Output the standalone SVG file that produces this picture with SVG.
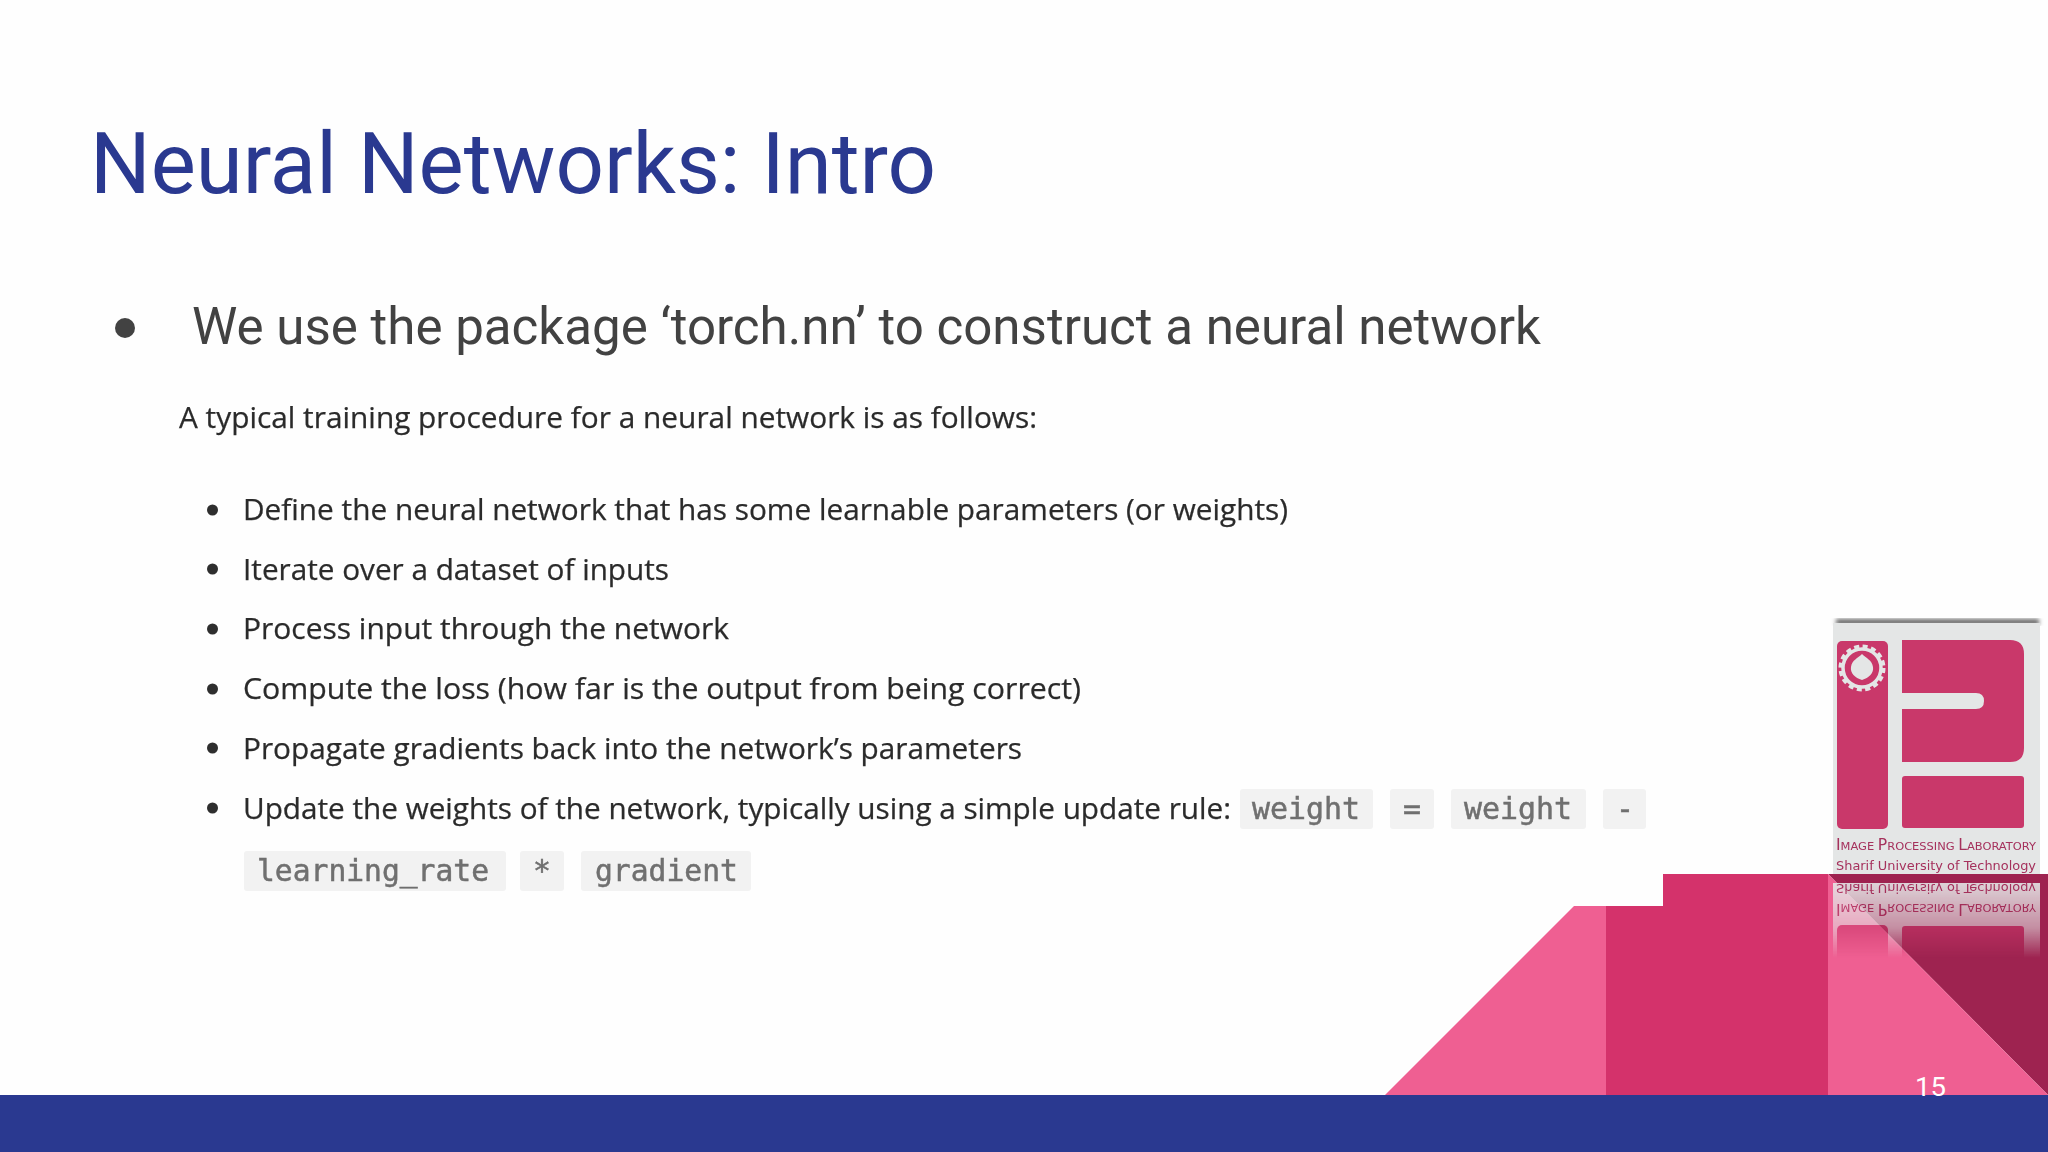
<svg xmlns="http://www.w3.org/2000/svg" width="2048" height="1152" viewBox="0 0 2048 1152">
<style>
.body{font-family:"Open Sans","Noto Sans",sans-serif;font-size:30px;fill:#2b2b2b;stroke:#2b2b2b;stroke-width:0.25}
.code{font-family:"DejaVu Sans Mono","Liberation Mono",monospace;font-size:30px;fill:#6f6f6f;stroke:#6f6f6f;stroke-width:0.5}
.chip{fill:#f2f2f2}
.dot{fill:#2e2e2e}
.logoP{fill:#c9386a}
.logoT{font-family:"DejaVu Sans","Liberation Sans",sans-serif;fill:#a5305c}
</style>
<defs>
<filter id="soft" x="-5%" y="-20%" width="110%" height="140%"><feGaussianBlur stdDeviation="0.6"/></filter>
<filter id="softer" x="-5%" y="-5%" width="110%" height="110%"><feGaussianBlur stdDeviation="0.6"/></filter>
<filter id="shadow" x="-10%" y="-10%" width="120%" height="120%"><feGaussianBlur stdDeviation="2"/></filter>
<linearGradient id="fade" gradientUnits="userSpaceOnUse" x1="0" y1="883" x2="0" y2="958">
<stop offset="0" stop-color="#fff" stop-opacity="0.9"/><stop offset="0.6" stop-color="#fff" stop-opacity="0.55"/><stop offset="1" stop-color="#fff" stop-opacity="0"/>
</linearGradient>
<mask id="reflMask" maskUnits="userSpaceOnUse" x="1828" y="883" width="220" height="80"><rect x="1828" y="883" width="220" height="80" fill="url(#fade)"/></mask>
<g id="logo">
<rect x="1833" y="623" width="207" height="252" fill="#e4e6e6"/>
<rect x="1837" y="641" width="51" height="188" rx="5" class="logoP"/>
<path class="logoP" d="M1902 640H2010Q2024 640 2024 654V748Q2024 762 2010 762H1902V709H1976Q1984 709 1984 701Q1984 693 1976 693H1902Z"/>
<rect x="1902" y="776" width="122" height="52" rx="3" class="logoP"/>
<circle cx="1862" cy="668" r="19" fill="none" stroke="#e4e6e6" stroke-width="3.500"/>
<circle cx="1862" cy="668" r="21.500" fill="none" stroke="#e4e6e6" stroke-width="4" stroke-dasharray="5 3.440"/>
<path fill="#e4e6e6" d="M1862 654C1866 658 1872 660 1873 667C1874 673 1869 678 1862 680C1855 678 1850 673 1851 667C1852 660 1858 658 1862 654Z"/>
<text class="logoT" x="1836" y="850" font-size="11" textLength="200" lengthAdjust="spacingAndGlyphs"><tspan font-size="15">I</tspan>MAGE <tspan font-size="15">P</tspan>ROCESSING <tspan font-size="15">L</tspan>ABORATORY</text>
<text class="logoT" x="1836" y="870" font-size="13" textLength="200" lengthAdjust="spacingAndGlyphs">Sharif University of Technology</text>
</g>
</defs>
<rect width="2048" height="1152" fill="#fefefe"/>
<text x="90" y="193" font-family="Roboto,sans-serif" font-size="85" fill="#2a3990" textLength="846" lengthAdjust="spacingAndGlyphs">Neural Networks: Intro</text>
<circle cx="125" cy="328" r="10" fill="#424242"/>
<text x="192" y="344" font-family="Roboto,sans-serif" font-size="52" fill="#424242" textLength="1349" lengthAdjust="spacingAndGlyphs">We use the package ‘torch.nn’ to construct a neural network</text>
<g filter="url(#soft)">
<text class="body" x="179" y="428" textLength="858" lengthAdjust="spacingAndGlyphs">A typical training procedure for a neural network is as follows:</text>
<circle class="dot" cx="212.500" cy="510" r="5.500"/>
<text class="body" x="243" y="520" textLength="1045" lengthAdjust="spacingAndGlyphs">Define the neural network that has some learnable parameters (or weights)</text>
<circle class="dot" cx="212.500" cy="569" r="5.500"/>
<text class="body" x="243" y="580" textLength="426" lengthAdjust="spacingAndGlyphs">Iterate over a dataset of inputs</text>
<circle class="dot" cx="212.500" cy="629" r="5.500"/>
<text class="body" x="243" y="639" textLength="486" lengthAdjust="spacingAndGlyphs">Process input through the network</text>
<circle class="dot" cx="212.500" cy="689" r="5.500"/>
<text class="body" x="243" y="699" textLength="838" lengthAdjust="spacingAndGlyphs">Compute the loss (how far is the output from being correct)</text>
<circle class="dot" cx="212.500" cy="748" r="5.500"/>
<text class="body" x="243" y="759" textLength="779" lengthAdjust="spacingAndGlyphs">Propagate gradients back into the network’s parameters</text>
<circle class="dot" cx="212.500" cy="808" r="5.500"/>
<text class="body" x="243" y="819" textLength="988" lengthAdjust="spacingAndGlyphs">Update the weights of the network, typically using a simple update rule:</text>
<rect class="chip" x="1240" y="789" width="133" height="40" rx="3"/>
<text class="code" x="1252" y="819" textLength="108" lengthAdjust="spacingAndGlyphs">weight</text>
<rect class="chip" x="1390" y="789" width="44" height="40" rx="3"/>
<text class="code" x="1403" y="819" textLength="18" lengthAdjust="spacingAndGlyphs">=</text>
<rect class="chip" x="1451" y="789" width="135" height="40" rx="3"/>
<text class="code" x="1464" y="819" textLength="108" lengthAdjust="spacingAndGlyphs">weight</text>
<rect class="chip" x="1603" y="789" width="43" height="40" rx="3"/>
<text class="code" x="1616" y="819" textLength="18" lengthAdjust="spacingAndGlyphs">-</text>
<rect class="chip" x="244" y="851" width="262" height="40" rx="3"/>
<text class="code" x="257" y="881" textLength="232" lengthAdjust="spacingAndGlyphs">learning_rate</text>
<rect class="chip" x="520" y="851" width="44" height="40" rx="3"/>
<text class="code" x="533" y="881" textLength="18" lengthAdjust="spacingAndGlyphs">*</text>
<rect class="chip" x="581" y="851" width="170" height="40" rx="3"/>
<text class="code" x="595" y="881" textLength="143" lengthAdjust="spacingAndGlyphs">gradient</text>
</g>
<rect x="1836" y="619" width="203" height="6" fill="#666" filter="url(#shadow)"/>
<use href="#logo" filter="url(#softer)"/>
<path fill="#ef5f92" d="M1574 906H1606V1095H1385Z"/>
<path fill="#d4326b" d="M1606 906H1663V874H1828V1095H1606Z"/>
<path fill="#9e2350" d="M1828 874H2048V1095Z"/>
<path fill="#ef5f92" d="M1828 874L2048 1095H1828Z"/>
<g mask="url(#reflMask)"><use href="#logo" transform="matrix(1 0 0 -1 0 1754)" filter="url(#softer)"/></g>
<rect y="1095" width="2048" height="57" fill="#2a3990"/>
<text x="1915" y="1096" font-family="Roboto,sans-serif" font-size="26" fill="#fff" textLength="31" lengthAdjust="spacingAndGlyphs">15</text>
</svg>
